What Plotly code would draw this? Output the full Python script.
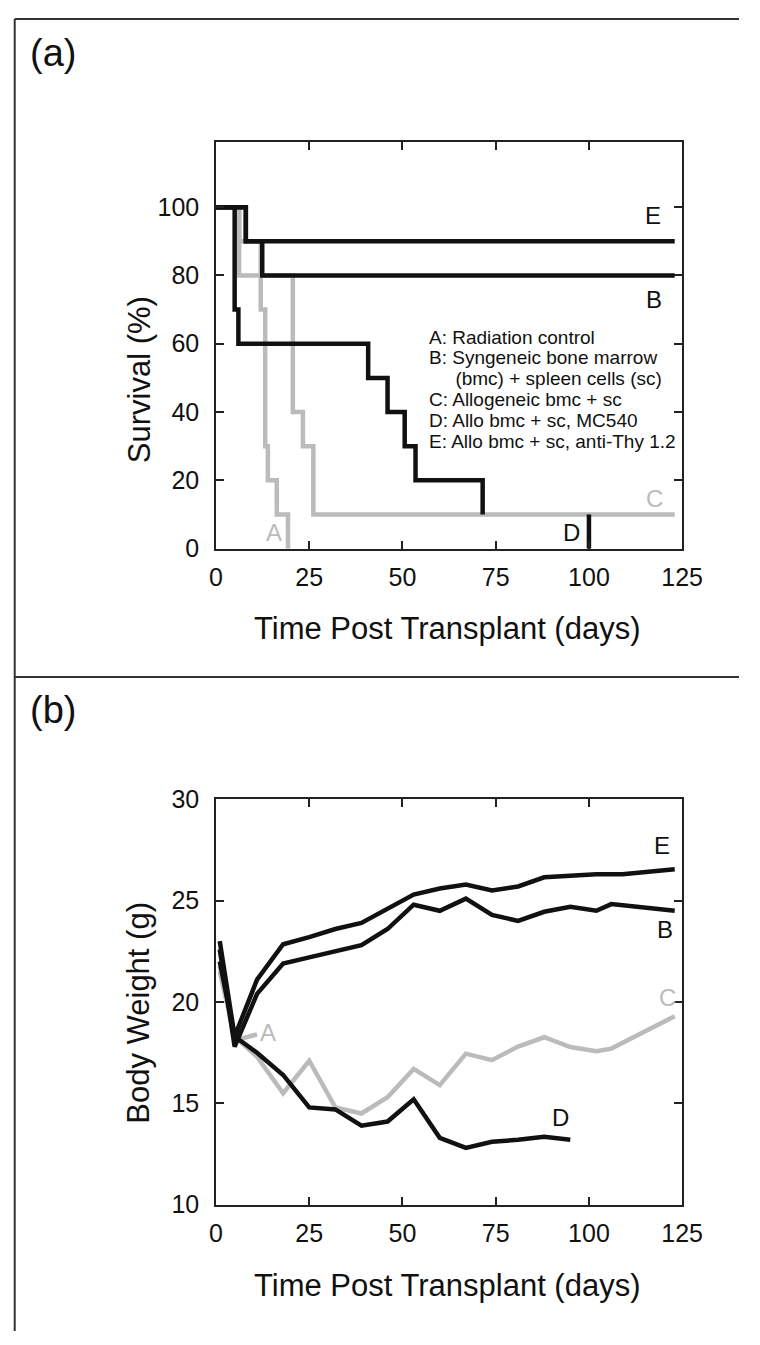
import plotly.graph_objects as go

W, H = 760, 1345
FONT = "Liberation Sans, Arial, Helvetica, sans-serif"
BLACK = "#111111"
GRAY = "#bbbbbb"

# ---------------- Panel (a): survival (step curves) ----------------
surv_A_x = [0, 6.2, 12, 13.2, 13.9, 16.3, 19.3]
surv_A_y = [100, 90, 70, 30, 20, 10, 0]
surv_C_x = [0, 6.2, 20.6, 23.3, 26.1, 123]
surv_C_y = [100, 80, 40, 30, 10, 10]
surv_B_x = [0, 8, 12.4, 123]
surv_B_y = [100, 90, 80, 80]
surv_E_x = [0, 8, 123]
surv_E_y = [100, 90, 90]
surv_D_x = [0, 5, 6, 40.8, 46, 50.6, 53.5, 71.5, None, 100, 100]
surv_D_y = [100, 70, 60, 50, 40, 30, 20, 10, None, 10, 0]

surv_xticks = [0, 25, 50, 75, 100, 125]
surv_yticks = [0, 20, 40, 60, 80, 100]

legend_lines = [
    "A: Radiation control",
    "B: Syngeneic bone marrow",
    "     (bmc) + spleen cells (sc)",
    "C: Allogeneic bmc + sc",
    "D: Allo bmc + sc, MC540",
    "E: Allo bmc + sc, anti-Thy 1.2",
]
legend_y = [61.9, 55.9, 49.8, 43.8, 37.6, 31.5]

# ---------------- Panel (b): body weight ----------------
bw_E_x = [1, 5, 11, 18, 25, 32, 39, 46, 53, 60, 67, 74, 81, 88, 95, 102, 109, 116, 123]
bw_E_y = [23.0, 18.3, 21.1, 22.85, 23.2, 23.6, 23.9, 24.6, 25.3, 25.6, 25.8, 25.5, 25.7, 26.15, 26.25, 26.3, 26.3, 26.45, 26.55]
bw_B_x = [1, 5, 11, 18, 25, 32, 39, 46, 53, 60, 67, 74, 81, 88, 95, 102, 106, 123]
bw_B_y = [22.6, 17.8, 20.4, 21.9, 22.2, 22.5, 22.8, 23.6, 24.8, 24.5, 25.1, 24.3, 24.0, 24.45, 24.7, 24.5, 24.83, 24.5]
bw_C_x = [1, 5, 11, 18, 25, 32, 39, 46, 53, 60, 67, 74, 81, 88, 95, 102, 106, 123]
bw_C_y = [21.5, 18.3, 17.3, 15.5, 17.1, 14.8, 14.5, 15.3, 16.7, 15.9, 17.45, 17.13, 17.8, 18.26, 17.78, 17.57, 17.7, 19.3]
bw_D_x = [1, 5, 11, 18, 25, 32, 39, 46, 53, 60, 67, 74, 81, 88, 95]
bw_D_y = [22.0, 18.3, 17.5, 16.4, 14.8, 14.7, 13.9, 14.1, 15.2, 13.3, 12.8, 13.1, 13.2, 13.35, 13.2]
bw_A_x = [1, 5, 11]
bw_A_y = [21.8, 18.1, 18.4]

bw_xticks = [0, 25, 50, 75, 100, 125]
bw_yticks = [10, 15, 20, 25, 30]

fig = go.Figure()

def add_line(x, y, color, xa, ya, shape="linear"):
    fig.add_trace(go.Scatter(
        x=x, y=y, mode="lines", xaxis=xa, yaxis=ya,
        line=dict(color=color, width=4.5, shape=shape),
        connectgaps=False, showlegend=False, hoverinfo="skip"))

# panel a: gray first, black on top
add_line(surv_A_x, surv_A_y, GRAY, "x", "y", "hv")
add_line(surv_C_x, surv_C_y, GRAY, "x", "y", "hv")
add_line(surv_D_x, surv_D_y, BLACK, "x", "y", "hv")
add_line(surv_B_x, surv_B_y, BLACK, "x", "y", "hv")
add_line(surv_E_x, surv_E_y, BLACK, "x", "y", "hv")

# panel b
add_line(bw_C_x, bw_C_y, GRAY, "x2", "y2")
add_line(bw_A_x, bw_A_y, GRAY, "x2", "y2")
add_line(bw_D_x, bw_D_y, BLACK, "x2", "y2")
add_line(bw_B_x, bw_B_y, BLACK, "x2", "y2")
add_line(bw_E_x, bw_E_y, BLACK, "x2", "y2")

def px_x(p):
    return p / W

def px_y(p):
    return (H - p) / H

x_dom = [px_x(217), px_x(701)]
axis_common = dict(
    showline=True, linecolor="#222222", linewidth=1.5, mirror="ticks",
    ticks="inside", ticklen=8, tickwidth=1.5, tickcolor="#222222",
    showgrid=False, zeroline=False,
    tickfont=dict(family=FONT, size=25, color="#111111"),
)

fig.update_layout(
    width=W, height=H,
    margin=dict(l=0, r=0, t=0, b=0),
    paper_bgcolor="white", plot_bgcolor="white",
    font=dict(family=FONT, color="#111111"),
    xaxis=dict(domain=x_dom, anchor="y", range=[0, 125], tickvals=surv_xticks,
               ticklabelstandoff=6, **axis_common),
    yaxis=dict(domain=[px_y(546), px_y(131)], anchor="x", range=[0, 119],
               tickvals=surv_yticks, ticklabelstandoff=10, **axis_common),
    xaxis2=dict(domain=x_dom, anchor="y2", range=[0, 125], tickvals=bw_xticks,
                ticklabelstandoff=6, **axis_common),
    yaxis2=dict(domain=[px_y(1216), px_y(802)], anchor="x2", range=[10, 30],
                tickvals=bw_yticks, ticklabelstandoff=10, **axis_common),
)

ann = []
# axis titles
title_font = dict(family=FONT, size=31, color="#111111")
ann.append(dict(text="Time Post Transplant (days)", xref="paper", yref="paper",
                x=px_x(457), y=px_y(628), showarrow=False, font=title_font,
                xanchor="center", yanchor="middle"))
ann.append(dict(text="Time Post Transplant (days)", xref="paper", yref="paper",
                x=px_x(457), y=px_y(1299), showarrow=False, font=title_font,
                xanchor="center", yanchor="middle"))
ann.append(dict(text="Survival (%)", xref="paper", yref="paper", textangle=-90,
                x=px_x(137), y=px_y(373), showarrow=False, font=title_font,
                xanchor="center", yanchor="middle"))
ann.append(dict(text="Body Weight (g)", xref="paper", yref="paper", textangle=-90,
                x=px_x(137), y=px_y(1020), showarrow=False, font=title_font,
                xanchor="center", yanchor="middle"))
# panel labels
panel_font = dict(family=FONT, size=38, color="#111111")
ann.append(dict(text="(a)", xref="paper", yref="paper", x=px_x(22), y=px_y(40),
                showarrow=False, font=panel_font, xanchor="left", yanchor="middle"))
ann.append(dict(text="(b)", xref="paper", yref="paper", x=px_x(22), y=px_y(711),
                showarrow=False, font=panel_font, xanchor="left", yanchor="middle"))

# legend text in panel a
for t, yy in zip(legend_lines, legend_y):
    ann.append(dict(text=t.replace(" ", "&nbsp;") if t.startswith(" ") else t,
                    xref="x", yref="y", x=56.7, y=yy, showarrow=False,
                    xanchor="left", yanchor="middle",
                    font=dict(family=FONT, size=19, color="#111111")))

lab_font_k = dict(family=FONT, size=24, color="#111111")
lab_font_g = dict(family=FONT, size=24, color=GRAY)
# curve labels panel a
for txt, xx, yy, f in [("E", 117.2, 97.5, lab_font_k), ("B", 117.5, 73.0, lab_font_k),
                       ("C", 117.5, 14.8, lab_font_g), ("D", 95.2, 4.6, lab_font_k),
                       ("A", 15.6, 4.6, lab_font_g)]:
    ann.append(dict(text=txt, xref="x", yref="y", x=xx, y=yy, showarrow=False,
                    font=f, xanchor="center", yanchor="middle"))
# curve labels panel b
for txt, xx, yy, f in [("E", 119.6, 27.7, lab_font_k), ("B", 120.4, 23.6, lab_font_k),
                       ("C", 121.0, 20.2, lab_font_g), ("D", 92.5, 14.3, lab_font_k),
                       ("A", 14.0, 18.5, lab_font_g)]:
    ann.append(dict(text=txt, xref="x2", yref="y2", x=xx, y=yy, showarrow=False,
                    font=f, xanchor="center", yanchor="middle"))

fig.update_layout(annotations=ann)

# outer frame lines
frame = dict(color="#333333", width=2)
fig.add_shape(type="line", xref="paper", yref="paper", x0=px_x(8), x1=1,
              y0=px_y(5), y1=px_y(5), line=frame)
fig.add_shape(type="line", xref="paper", yref="paper", x0=px_x(8), x1=px_x(8),
              y0=px_y(5), y1=0, line=frame)
fig.add_shape(type="line", xref="paper", yref="paper", x0=px_x(8), x1=1,
              y0=px_y(677), y1=px_y(677), line=frame)

fig.write_html("out.html")
